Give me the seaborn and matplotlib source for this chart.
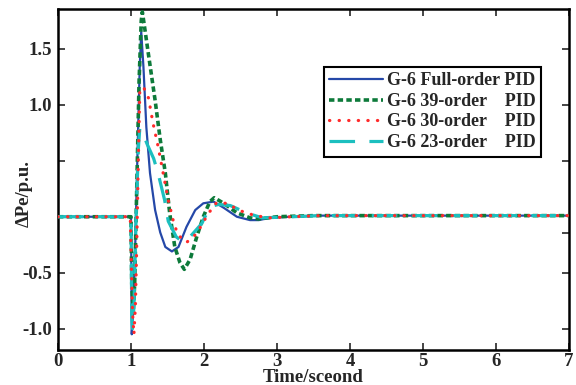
import numpy as np
import pandas as pd
import seaborn as sns
import matplotlib.pyplot as plt

# Values (time in s, dPe in p.u.)
t_full = [0, 1.0, 1.01, 1.03, 1.06, 1.09, 1.12, 1.14, 1.17, 1.21, 1.26, 1.33, 1.40, 1.47,
          1.56, 1.65, 1.76, 1.88, 1.99, 2.13, 2.27, 2.45, 2.63, 2.75, 2.9, 3.18, 3.6, 4.5, 5.5, 7.0]
p_full = [0, 0, -1.05, -0.85, -0.2, 0.6, 1.35, 1.65, 1.34, 0.8, 0.39, 0.06, -0.14, -0.27,
          -0.31, -0.27, -0.09, 0.06, 0.12, 0.135, 0.08, 0.0, -0.03, -0.03, -0.01, 0.0, 0.01, 0.01, 0.01, 0.01]

t_39 = [0, 1.0, 1.01, 1.03, 1.05, 1.08, 1.11, 1.14, 1.155, 1.18, 1.23, 1.33, 1.40, 1.47,
        1.53, 1.60, 1.67, 1.73, 1.81, 1.90, 1.99, 2.08, 2.14, 2.27, 2.45, 2.63, 2.75, 3.0, 3.5, 4.5, 5.5, 7.0]
p_39 = [0, 0, -0.6, -0.86, -0.6, 0.3, 1.2, 1.75, 1.83, 1.72, 1.49, 1.04, 0.69, 0.39,
        0.03, -0.27, -0.41, -0.47, -0.38, -0.18, 0.0, 0.135, 0.17, 0.12, 0.035, -0.01, -0.02, 0.0, 0.01, 0.01, 0.01, 0.01]

t_30 = [0, 0.99, 1.0, 1.02, 1.04, 1.06, 1.08, 1.10, 1.12, 1.17, 1.24, 1.30, 1.37, 1.44,
        1.51, 1.58, 1.64, 1.76, 1.90, 2.06, 2.17, 2.31, 2.49, 2.7, 2.9, 3.2, 3.6, 4.5, 5.5, 7.0]
p_30 = [0, 0, -0.3, -0.85, -1.05, -0.8, -0.2, 0.5, 1.12, 1.16, 1.06, 0.84, 0.63, 0.39,
        0.15, -0.04, -0.16, -0.23, -0.15, 0.03, 0.125, 0.12, 0.055, 0.01, -0.01, 0.0, 0.01, 0.01, 0.01, 0.01]

t_23 = [0, 1.0, 1.01, 1.02, 1.04, 1.07, 1.10, 1.12, 1.16, 1.22, 1.31, 1.37, 1.46, 1.51,
        1.62, 1.70, 1.78, 1.97, 2.08, 2.20, 2.36, 2.6, 2.8, 3.2, 3.6, 4.5, 5.5, 7.0]
p_23 = [0, 0, -0.9, -1.0, -0.8, 0.0, 0.6, 0.79, 0.75, 0.65, 0.52, 0.39, 0.15, -0.04,
        -0.18, -0.22, -0.2, -0.06, 0.09, 0.11, 0.1, 0.03, -0.01, 0.0, 0.01, 0.01, 0.01, 0.01]

labels = ["G-6 Full-order PID", "G-6 39-order    PID", "G-6 30-order    PID", "G-6 23-order    PID"]
colors = ["#2548a8", "#0d7a3a", "#ff2a2a", "#1cbfbf"]

sns.set_style("ticks")
plt.rcParams['font.family'] = ['Liberation Serif', 'DejaVu Serif']
plt.rcParams['font.weight'] = 'bold'
plt.rcParams['axes.labelweight'] = 'bold'

fig, ax = plt.subplots(figsize=(5.76, 3.85), dpi=100)
fig.subplots_adjust(left=0.1007, right=0.988, top=0.977, bottom=0.091)

styles = [
    dict(linestyle='-', linewidth=1.6, zorder=2),
    dict(linestyle=(0, (1.5, 0.9)), linewidth=2.6, zorder=3),
    dict(linestyle=(0, (0.1, 2.9)), linewidth=2.3, dash_capstyle='round', zorder=5),
    dict(linestyle=(0, (8, 4.5)), linewidth=2.3, zorder=4),
]
series = [(t_full, p_full), (t_39, p_39), (t_30, p_30), (t_23, p_23)]
for (t, p), lab, c, st in zip(series, labels, colors, styles):
    df = pd.DataFrame({"t": t, "p": p})
    sns.lineplot(data=df, x="t", y="p", ax=ax, color=c, label=lab,
                 sort=False, estimator=None, **st)

ax.set_xlim(0, 7)
ax.set_ylim(-1.19, 1.857)
ax.set_xticks(range(8))
ax.set_yticks([-1.0, -0.5, 0.5, 1.0, 1.5])
ax.set_yticklabels(['-1.0', '-0.5', '', '1.0', '1.5'])
ax.set_yticks([-0.145], minor=True)
ax.tick_params(which='major', direction='in', top=True, right=True, length=5, width=1.2,
               labelsize=13.5, pad=4)
ax.tick_params(which='minor', direction='in', left=False, right=True, length=5, width=1.2)
ax.tick_params(axis='x', pad=2)
for lbl in ax.get_xticklabels() + ax.get_yticklabels():
    lbl.set_fontweight('bold')
for s in ax.spines.values():
    s.set_linewidth(1.8)
    s.set_color('black')

ax.set_xlabel("Time/sceond", fontsize=13.5, fontweight='bold')
ax.xaxis.set_label_coords(0.5, -0.057)
ax.set_ylabel("ΔPe/p.u.", fontsize=13.5, fontweight='bold')
ax.yaxis.set_label_coords(-0.05, 0.46)

leg = ax.legend(loc='upper right', bbox_to_anchor=(0.945, 0.83), borderaxespad=0,
                fontsize=13, handlelength=3.0, handletextpad=0.2, labelspacing=0.2,
                fancybox=False, framealpha=1, edgecolor='black', borderpad=0.3)
leg.get_frame().set_linewidth(1.5)
for txt in leg.get_texts():
    txt.set_fontweight('bold')

plt.savefig('out.png', dpi=100)
